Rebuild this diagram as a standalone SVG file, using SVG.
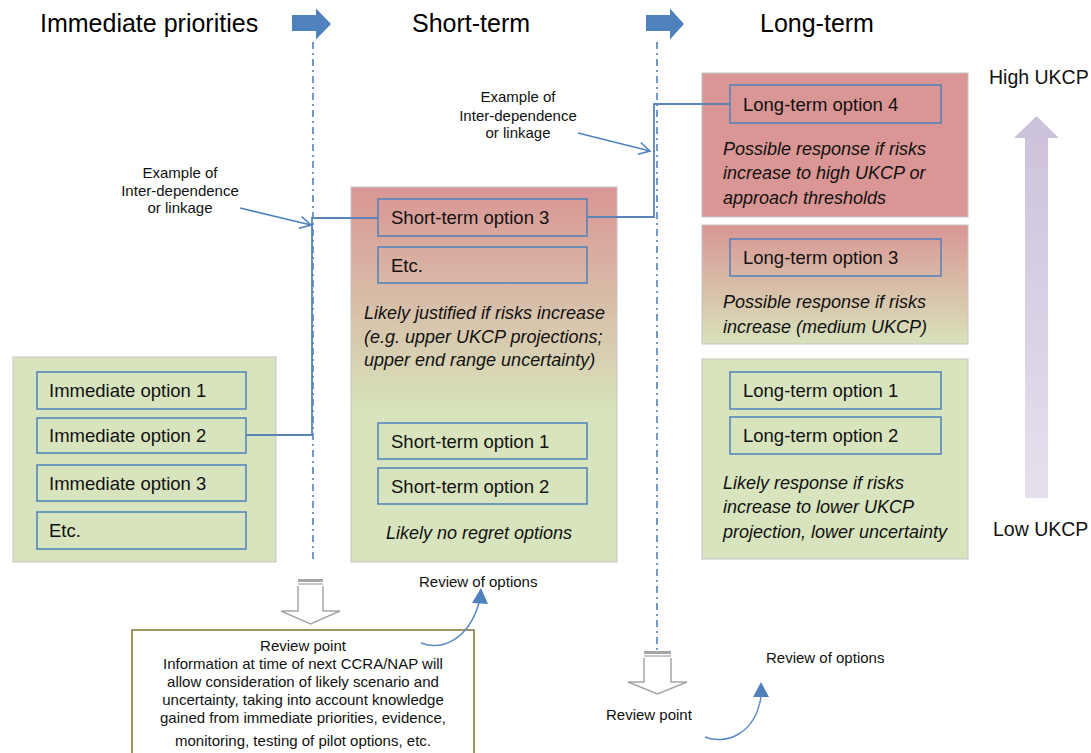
<svg xmlns="http://www.w3.org/2000/svg" width="1091" height="753" viewBox="0 0 1091 753">
<defs>
<linearGradient id="gRG" x1="0" y1="0" x2="0" y2="1">
<stop offset="0" stop-color="#d99694"/>
<stop offset="1" stop-color="#d7e2bb"/>
</linearGradient>
<linearGradient id="gPur" x1="0" y1="0" x2="0" y2="1">
<stop offset="0" stop-color="#ccc1da"/>
<stop offset="1" stop-color="#e6e0ec"/>
</linearGradient>
<marker id="openHead" markerWidth="14" markerHeight="14" refX="12" refY="7" orient="auto" markerUnits="userSpaceOnUse">
<path d="M1,1 L12,7 L1,13" fill="none" stroke="#4f81bd" stroke-width="1.6"/>
</marker>
<style>
.hdr{font-family:"Liberation Sans",Arial,sans-serif;font-size:25px;fill:#000}
.lbl{font-family:"Liberation Sans",Arial,sans-serif;font-size:18.5px;fill:#111}
.it{font-family:"Liberation Sans",Arial,sans-serif;font-size:18px;font-style:italic;fill:#111}
.sm{font-family:"Liberation Sans",Arial,sans-serif;font-size:15px;fill:#111}
.uk{font-family:"Liberation Sans",Arial,sans-serif;font-size:19.5px;fill:#111}
.panel{stroke:#c4c4c4;stroke-width:1}
.green{fill:#d7e4bd}
.red{fill:#d99694}
.opt{fill:none;stroke:#4f81bd;stroke-width:1.5}
.dd{fill:none;stroke:#4f81bd;stroke-width:1.6;stroke-dasharray:7 4 2 4}
.link{fill:none;stroke:#5a84b8;stroke-width:1.8}
.blk{fill:#4f81bd}
.hollow{fill:#fff;stroke:#a6a6a6;stroke-width:1.5}
</style>
</defs>

<g id="headers">
<text class="hdr" x="40" y="32">Immediate priorities</text>
<text class="hdr" x="412" y="32">Short-term</text>
<text class="hdr" x="760" y="32">Long-term</text>
<path class="blk" d="M292,15 L316,15 L316,8.5 L331,24 L316,39.5 L316,31 L292,31 Z"/>
<path class="blk" d="M646,15 L670,15 L670,8.5 L684,24 L670,39.5 L670,31 L646,31 Z"/>
</g>

<g id="timeline-lines">
<line class="dd" x1="313" y1="42" x2="313" y2="560"/>
<line class="dd" x1="657" y1="42" x2="657" y2="650"/>
</g>

<g id="immediate">
<rect class="panel green" x="13" y="357" width="263" height="205"/>
<g id="imm1"><rect class="opt" x="37" y="372" width="209" height="37"/><text class="lbl" x="49" y="397">Immediate option 1</text></g>
<g id="imm2"><rect class="opt" x="37" y="418" width="209" height="35"/><text class="lbl" x="49" y="442">Immediate option 2</text></g>
<g id="imm3"><rect class="opt" x="37" y="465" width="209" height="36"/><text class="lbl" x="49" y="489.5">Immediate option 3</text></g>
<g id="immEtc"><rect class="opt" x="37" y="512" width="209" height="37"/><text class="lbl" x="49" y="537">Etc.</text></g>
</g>

<g id="shortterm">
<rect fill="url(#gRG)" x="351" y="187" width="266" height="222"/>
<rect class="green" x="351" y="408" width="266" height="154"/>
<rect fill="none" class="panel" x="351" y="187" width="266" height="375"/>
<g id="st3"><rect class="opt" x="378" y="199" width="209" height="37"/><text class="lbl" x="391" y="224">Short-term option 3</text></g>
<g id="stEtc"><rect class="opt" x="378" y="247" width="209" height="36"/><text class="lbl" x="391" y="271.5">Etc.</text></g>
<text class="it" x="364" y="319">Likely justified if risks increase</text>
<text class="it" x="364" y="343">(e.g. upper UKCP projections;</text>
<text class="it" x="364" y="366">upper end range uncertainty)</text>
<g id="st1"><rect class="opt" x="378" y="423" width="209" height="36"/><text class="lbl" x="391" y="447.5">Short-term option 1</text></g>
<g id="st2"><rect class="opt" x="378" y="468" width="209" height="36"/><text class="lbl" x="391" y="492.5">Short-term option 2</text></g>
<text class="it" x="386" y="539">Likely no regret options</text>
</g>

<g id="longterm">
<rect class="panel red" x="702" y="73" width="266" height="144"/>
<g id="lt4"><rect class="opt" x="730" y="85" width="211" height="38"/><text class="lbl" x="743" y="110.5">Long-term option 4</text></g>
<text class="it" x="723" y="155">Possible response if risks</text>
<text class="it" x="723" y="179">increase to high UKCP or</text>
<text class="it" x="723" y="204">approach thresholds</text>

<rect class="panel" fill="url(#gRG)" x="702" y="225" width="266" height="119"/>
<g id="lt3"><rect class="opt" x="730" y="239" width="211" height="37"/><text class="lbl" x="743" y="264">Long-term option 3</text></g>
<text class="it" x="723" y="308">Possible response if risks</text>
<text class="it" x="723" y="333">increase (medium UKCP)</text>

<rect class="panel green" x="702" y="359" width="266" height="200"/>
<g id="lt1"><rect class="opt" x="730" y="372" width="211" height="37"/><text class="lbl" x="743" y="397">Long-term option 1</text></g>
<g id="lt2"><rect class="opt" x="730" y="417" width="211" height="37"/><text class="lbl" x="743" y="442">Long-term option 2</text></g>
<text class="it" x="723" y="489">Likely response if risks</text>
<text class="it" x="723" y="513">increase to lower UKCP</text>
<text class="it" x="723" y="538">projection, lower uncertainty</text>
</g>

<g id="ukcp-scale">
<text class="uk" x="989" y="84">High UKCP</text>
<path fill="url(#gPur)" d="M1036.5,116 L1059,138 L1048,138 L1048,498 L1025,498 L1025,138 L1014,138 Z"/>
<text class="uk" x="993" y="536">Low UKCP</text>
</g>

<g id="review-arrow-1">
<path class="hollow" d="M298,586 L298,611 L281,611 L310.5,624 L340,611 L323,611 L323,586"/>
<rect x="298" y="579" width="25" height="3" fill="#a6a6a6"/>
<rect x="298" y="583" width="25" height="2" fill="#c8c8c8"/>
</g>
<g id="review-arrow-2">
<path class="hollow" d="M644,658 L644,682 L628,682 L657.5,694 L687,682 L671,682 L671,658"/>
<rect x="644" y="651" width="27" height="3" fill="#a6a6a6"/>
<rect x="644" y="655" width="27" height="2" fill="#c8c8c8"/>
</g>

<g id="review-box">
<rect x="132" y="630" width="342" height="130" fill="#fff" stroke="#948a54" stroke-width="1.8"/>
<text class="sm" text-anchor="middle" x="303" y="651">Review point</text>
<text class="sm" text-anchor="middle" x="303" y="669">Information at time of next CCRA/NAP will</text>
<text class="sm" text-anchor="middle" x="303" y="687">allow consideration of likely scenario and</text>
<text class="sm" text-anchor="middle" x="303" y="705">uncertainty, taking into account knowledge</text>
<text class="sm" text-anchor="middle" x="303" y="723">gained from immediate priorities, evidence,</text>
<text class="sm" text-anchor="middle" x="303" y="746">monitoring, testing of pilot options, etc.</text>
</g>

<g id="connectors">
<path class="link" d="M246,435 L312,435 L312,218 L378,218"/>
<path class="link" d="M587,217 L654,217 L654,104 L730,104"/>
<line x1="240" y1="208" x2="311" y2="225" stroke="#4f81bd" stroke-width="1.6" marker-end="url(#openHead)"/>
<line x1="578" y1="133" x2="650" y2="151" stroke="#4f81bd" stroke-width="1.6" marker-end="url(#openHead)"/>
<path d="M421,643 C442,651 468,640 479,603" fill="none" stroke="#5b8ac6" stroke-width="1.5"/>
<path d="M472,603 L481,588 L488,604 Z" fill="#4f81bd"/>
<path d="M705,737 C725,745 755,735 761,697" fill="none" stroke="#5b8ac6" stroke-width="1.5"/>
<path d="M753,697 L761,682 L769,697 Z" fill="#4f81bd"/>
</g>

<g id="annotations">
<text class="sm" text-anchor="middle" x="180" y="178">Example of</text>
<text class="sm" text-anchor="middle" x="180" y="196">Inter-dependence</text>
<text class="sm" text-anchor="middle" x="180" y="213">or linkage</text>
<text class="sm" text-anchor="middle" x="518" y="102">Example of</text>
<text class="sm" text-anchor="middle" x="518" y="121">Inter-dependence</text>
<text class="sm" text-anchor="middle" x="518" y="138">or linkage</text>
<text class="sm" x="419" y="587">Review of options</text>
<text class="sm" x="766" y="663">Review of options</text>
<text class="sm" x="606" y="720">Review point</text>
</g>
</svg>
